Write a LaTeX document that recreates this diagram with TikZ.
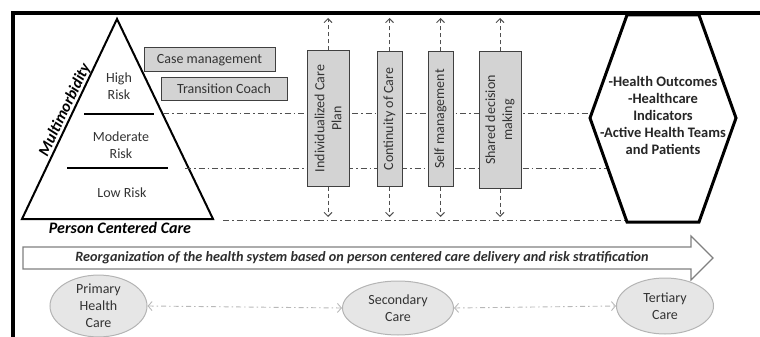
\documentclass[tikz,border=0pt]{standalone}
\usepackage{fontspec}
\setmainfont{Carlito}
\usetikzlibrary{arrows.meta,shapes.geometric}

\definecolor{txtgray}{HTML}{333333}
\definecolor{boxfill}{HTML}{D3D3D3}
\definecolor{boxline}{HTML}{404040}
\definecolor{linkgray}{HTML}{505050}
\definecolor{ovalfill}{HTML}{E6E6E6}
\definecolor{ovalline}{HTML}{B4B4B4}
\definecolor{arrowline}{HTML}{808080}
\definecolor{lightlink}{HTML}{B8B8B8}

\begin{document}
\begin{tikzpicture}[x=1pt,y=-1pt,
  txt/.style={font=\fontsize{14}{17}\selectfont, text=txtgray, align=center, inner sep=0pt},
  boldtxt/.style={font=\fontsize{16}{19}\bfseries\itshape\selectfont, text=black, inner sep=0pt},
  sidebox/.style={draw=boxline, fill=boxfill, line width=1pt, inner sep=0pt,
    font=\fontsize{14}{17}\selectfont, text=txtgray},
  vbox/.style={draw=boxline, fill=boxfill, line width=1pt, inner sep=0pt},
  vtext/.style={txt, rotate=90},
  stratline/.style={draw=linkgray, line width=0.9pt, dash pattern=on 6pt off 3pt on 1.5pt off 3pt},
  vlink/.style={draw=linkgray, line width=0.9pt, dash pattern=on 4pt off 3pt,
    -{Straight Barb[length=4pt,width=8pt,line width=0.9pt]}},
  oval/.style={ellipse, draw=ovalline, fill=ovalfill, line width=1pt, inner sep=0pt,
    font=\fontsize{14}{17}\selectfont, text=txtgray, align=center},
  carelink/.style={draw=lightlink, line width=0.9pt, dash pattern=on 5pt off 3pt on 1.5pt off 3pt,
    {Straight Barb[length=4pt,width=9pt,line width=0.9pt]}-{Straight Barb[length=4pt,width=9pt,line width=0.9pt]}}
]
\useasboundingbox (0,0) rectangle (760,337);

% outer frame
\draw[line width=4pt, line join=miter] (13,337) -- (13,13) -- (760,13);

% risk pyramid
\draw[line width=2pt, line join=miter] (117,19) -- (213,219) -- (22,219) -- cycle;
\coordinate (s1a) at (84,114);  \coordinate (s1b) at (154,114);
\coordinate (s2a) at (67,168);  \coordinate (s2b) at (168,168);
\draw[line width=2pt] (s1a) -- (s1b);
\draw[line width=2pt] (s2a) -- (s2b);
\node[txt] (high) at (119,86) {High\\Risk};
\node[txt] (moderate) at (121,145) {Moderate\\Risk};
\node[txt] (low) at (122,193) {Low Risk};
\node[boldtxt, rotate=64.5] (multi) at (65,110) {Multimorbidity};
\node[boldtxt] (pcc) at (120,228) {Person Centered Care};

% high risk services
\node[sidebox, minimum width=131pt, minimum height=24pt] (case) at (209.5,60) {Case management};
\node[sidebox, minimum width=126pt, minimum height=23pt] (coach) at (224,88.5) {Transition Coach};

% stratification levels
\coordinate (l1a) at (163,113); \coordinate (l1b) at (591,113);
\coordinate (l2a) at (185,168); \coordinate (l2b) at (608,168);
\coordinate (l3a) at (223,220); \coordinate (l3b) at (627,220);
\draw[stratline] (l1a) -- (l1b);
\draw[stratline] (l2a) -- (l2b);
\draw[stratline] (l3a) -- (l3b);

% care components
\node[vbox, minimum width=42pt, minimum height=135pt] (icp) at (328,118.5) {};
\node[vtext] (icpt) at (icp) {Individualized Care\\Plan};
\node[vbox, minimum width=25pt, minimum height=134pt] (coc) at (389.5,119) {};
\node[vtext] (coct) at (coc) {Continuity of Care};
\node[vbox, minimum width=25pt, minimum height=134pt] (self) at (440.5,119) {};
\node[vtext] (selft) at (self) {Self management};
\node[vbox, minimum width=42pt, minimum height=136pt] (sdm) at (500,120) {};
\node[vtext] (sdmt) at (sdm) {Shared decision\\making};

\coordinate (icpup) at (328,18);   \coordinate (icpdn) at (328,217);
\coordinate (cocup) at (389.5,18); \coordinate (cocdn) at (389.5,217);
\coordinate (selfup) at (440.5,18); \coordinate (selfdn) at (440.5,217);
\coordinate (sdmup) at (500,18);   \coordinate (sdmdn) at (500,217);
\draw[vlink] (icp.north) -- (icpup);   \draw[vlink] (icp.south) -- (icpdn);
\draw[vlink] (coc.north) -- (cocup);   \draw[vlink] (coc.south) -- (cocdn);
\draw[vlink] (self.north) -- (selfup); \draw[vlink] (self.south) -- (selfdn);
\draw[vlink] (sdm.north) -- (sdmup);   \draw[vlink] (sdm.south) -- (sdmdn);

% outcomes hexagon
\draw[line width=3pt, line join=miter, fill=white]
  (627,15) -- (699,15) -- (736,118) -- (699,222) -- (627,222) -- (590,118) -- cycle;
\node[font=\fontsize{14.5}{17}\bfseries\selectfont, text=black!85, align=center, inner sep=0pt]
  (outcomes) at (663,115) {-Health Outcomes\\-Healthcare\\Indicators\\-Active Health Teams\\and Patients};

% reorganization arrow
\draw[draw=arrowline, line width=1.2pt, line join=miter, fill=white]
  (23,247) -- (691,247) -- (691,236) -- (713,258) -- (691,280) -- (691,269) -- (23,269) -- cycle;
\node[font=\fontsize{14.2}{16}\bfseries\itshape\selectfont, text=txtgray!90!black, inner sep=0pt]
  (reorg) at (362,258) {Reorganization of the health system based on person centered care delivery and risk stratification};

% levels of care
\node[oval, minimum width=97pt, minimum height=57pt] (primary) at (98.5,306) {Primary\\Health\\Care};
\node[oval, minimum width=111pt, minimum height=54pt] (secondary) at (398,308) {Secondary\\Care};
\node[oval, minimum width=97pt, minimum height=56pt] (tertiary) at (665,306) {Tertiary\\Care};
\draw[carelink] (primary.east) -- (secondary.west);
\draw[carelink] (secondary.east) -- (tertiary.west);
\end{tikzpicture}
\end{document}
